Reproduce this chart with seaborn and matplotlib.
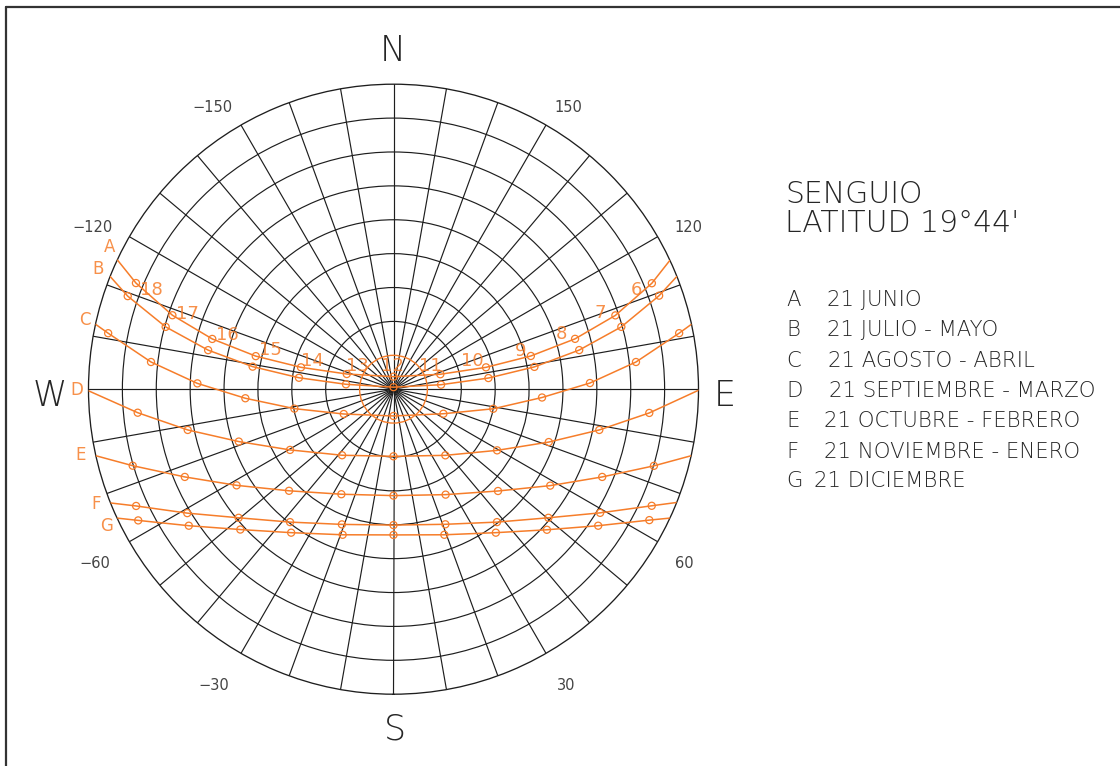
import numpy as np
import pandas as pd
import matplotlib
matplotlib.use("Agg")
import matplotlib.pyplot as plt
from matplotlib.lines import Line2D
from matplotlib.patches import Circle
import seaborn as sns

ORANGE = "#f67d2a"
INK = "#1e1e1e"
TEXT = "#262626"

# Sun positions: azimuth from south (east positive), zenith distance, both in degrees.
# Hour markers run from morning (east) to evening (west); rise/set are horizon crossings.
HOURS_A = [6, 7, 8, 9, 10, 11, 12, 13, 14, 15, 16, 17, 18]
A_AZ = [112.3, 108.4, 105.5, 103.6, 103.3, 107.7, 180.0, -108.0, -103.3, -103.5, -105.5, -108.5, -112.4]
A_ZEN = [82.4, 69.0, 55.6, 41.7, 28.05, 14.5, 3.7, 14.5, 28.05, 41.8, 55.5, 68.8, 82.2]
A_RISE_SET = [115.0, -115.1]

HOURS_B = [6, 7, 8, 9, 10, 11, 12, 13, 14, 15, 16, 17, 18]
B_AZ = [109.4, 105.3, 101.9, 99.0, 96.7, 95.4, 180.0, -95.9, -96.9, -99.1, -101.9, -105.3, -109.3]
B_ZEN = [83.1, 69.7, 56.0, 42.1, 28.2, 14.1, 0.6, 14.1, 28.1, 42.1, 55.9, 69.7, 83.1]
B_RISE_SET = [111.7, -111.7]

HOURS_C = [6, 7, 8, 9, 10, 11, 12, 13, 14, 15, 16, 17, 18]
C_AZ = [101.1, 96.4, 91.8, 86.8, 78.9, 63.8, 0.0, -63.5, -78.9, -86.5, -91.7, -96.4, -101.1]
C_ZEN = [85.9, 72.0, 58.0, 43.9, 30.0, 16.4, 7.9, 16.4, 29.8, 43.8, 57.9, 72.0, 85.8]
C_RISE_SET = [102.3, -102.3]

HOURS_D = [7, 8, 9, 10, 11, 12, 13, 14, 15, 16, 17]
D_AZ = [84.7, 78.8, 71.2, 59.45, 38.1, 0.0, -37.9, -59.6, -71.3, -78.8, -84.75]
D_ZEN = [75.8, 61.9, 48.4, 35.5, 24.8, 19.8, 24.7, 35.4, 48.2, 61.9, 75.8]
D_RISE_SET = [89.8, -89.7]

HOURS_E = [7, 8, 9, 10, 11, 12, 13, 14, 15, 16, 17]
E_AZ = [73.6, 67.2, 58.4, 45.75, 26.3, 0.0, -26.4, -45.8, -58.5, -67.2, -73.65]
E_ZEN = [80.1, 66.8, 54.3, 43.05, 34.7, 31.4, 34.6, 43.0, 54.3, 66.8, 80.2]
E_RISE_SET = [77.4, -77.4]

HOURS_F = [7, 8, 9, 10, 11, 12, 13, 14, 15, 16, 17]
F_AZ = [65.7, 59.1, 50.3, 37.9, 21.0, 0.0, -20.9, -37.9, -50.3, -59.0, -65.6]
F_ZEN = [83.6, 71.05, 59.4, 49.7, 42.7, 40.1, 42.7, 49.7, 59.4, 71.0, 83.4]
F_RISE_SET = [68.2, -68.1]

HOURS_G = [7, 8, 9, 10, 11, 12, 13, 14, 15, 16, 17]
G_AZ = [62.9, 56.3, 47.5, 35.5, 19.25, 0.0, -19.25, -35.5, -47.5, -56.3, -62.8]
G_ZEN = [84.8, 72.6, 61.4, 52.0, 45.5, 43.0, 45.5, 52.0, 61.3, 72.6, 84.7]
G_RISE_SET = [65.0, -65.0]

CURVE_IDS = ["A", "B", "C", "D", "E", "F", "G"]
CURVE_NAMES = ["21 JUNIO", "21 JULIO - MAYO", "21 AGOSTO - ABRIL",
               "21 SEPTIEMBRE - MARZO", "21 OCTUBRE - FEBRERO",
               "21 NOVIEMBRE - ENERO", "21 DICIEMBRE"]

AZ_TICKS = [-150, 150, -120, 120, -60, 60, -30, 30]

curves = {
    "A": (HOURS_A, A_AZ, A_ZEN, A_RISE_SET),
    "B": (HOURS_B, B_AZ, B_ZEN, B_RISE_SET),
    "C": (HOURS_C, C_AZ, C_ZEN, C_RISE_SET),
    "D": (HOURS_D, D_AZ, D_ZEN, D_RISE_SET),
    "E": (HOURS_E, E_AZ, E_ZEN, E_RISE_SET),
    "F": (HOURS_F, F_AZ, F_ZEN, F_RISE_SET),
    "G": (HOURS_G, G_AZ, G_ZEN, G_RISE_SET),
}

# tidy tables: full path (horizon to horizon) and the hourly markers
path_rows, mark_rows = [], []
for cid, (hours, az, zen, rs) in curves.items():
    seq = [(rs[0], 90.0)] + list(zip(az, zen)) + [(rs[1], 90.0)]
    for i, (a, z) in enumerate(seq):
        path_rows.append({"curve": cid, "order": i, "theta": np.deg2rad(a), "zen": z})
    for h, a, z in zip(hours, az, zen):
        mark_rows.append({"curve": cid, "hour": h, "theta": np.deg2rad(a), "zen": z})
path_df = pd.DataFrame(path_rows)
mark_df = pd.DataFrame(mark_rows)

sns.set_theme(style="white")
plt.rcParams["font.family"] = ["DejaVu Sans"]
FW = "light"

W, H = 1120, 766
fig = plt.figure(figsize=(W / 100, H / 100), dpi=100)
cx, cy, R = 393.5, 389.2, 305.0
ax = fig.add_axes([(cx - R) / W, (H - cy - R) / H, 2 * R / W, 2 * R / H],
                  projection="polar")
ax.set_theta_zero_location("S")
ax.set_theta_direction(1)
ax.set_ylim(0, 90)

# grid: radial lines every 10 degrees, altitude rings every 10 degrees
ax.set_xticks(np.deg2rad(np.arange(0, 360, 10)))
ax.set_xticklabels([])
ax.set_yticks(np.arange(20, 90, 10))
ax.set_yticklabels([])
ax.tick_params(length=0)
ax.grid(True, color=INK, linewidth=0.85)
ax.spines["polar"].set_color(INK)
ax.spines["polar"].set_linewidth(0.95)
ax.add_patch(Circle((0.5, 0.5), 0.5 * 10 / 90, transform=ax.transAxes,
                    fill=False, edgecolor=ORANGE, linewidth=1.0, zorder=3))

sns.lineplot(data=path_df, x="theta", y="zen", units="curve", estimator=None,
             sort=False, color=ORANGE, linewidth=1.1, ax=ax, legend=False, zorder=3)
sns.scatterplot(data=mark_df, x="theta", y="zen", marker="o", s=26,
                facecolor="none", edgecolor=ORANGE, linewidth=0.9,
                ax=ax, legend=False, zorder=4)
ax.set_xlabel("")
ax.set_ylabel("")

# hour labels along the June path
hour_offsets = {6: (-15.7, 6.7), 7: (-15, -2.6), 8: (-14, -4.7), 9: (-10.3, -5.3),
                10: (-14, -6.8), 11: (-10.3, -7.8), 12: (-1.5, -11), 13: (10.3, -8.5),
                14: (11.5, -6.8), 15: (14.3, -6), 16: (15.4, -4), 17: (15, -1.7),
                18: (15.7, 6.7)}
for h, a, z in zip(HOURS_A, A_AZ, A_ZEN):
    dx, dy = hour_offsets[h]
    ax.annotate(str(h), xy=(np.deg2rad(a), z), xytext=(dx, -dy),
                textcoords="offset pixels", ha="center", va="center",
                fontsize=13, color=ORANGE, fontweight="normal", alpha=0.85,
                annotation_clip=False)

# curve letters beside the western horizon crossing
letter_offsets = {"A": (-8, -13), "B": (-11.7, -7.7), "C": (-10.7, -4.3),
                  "D": (-12, -0.7), "E": (-15, -0.3), "F": (-14.4, 0.6),
                  "G": (-11, 8.3)}
for cid in CURVE_IDS:
    rs = curves[cid][3]
    dx, dy = letter_offsets[cid]
    ax.annotate(cid, xy=(np.deg2rad(rs[1]), 90), xytext=(dx, -dy),
                textcoords="offset pixels", ha="center", va="center",
                fontsize=12, color=ORANGE, fontweight="normal", alpha=0.85,
                annotation_clip=False)


def ft(x, y, s, **kw):
    fig.text(x / W, 1 - y / H, s, **kw)


# azimuth labels outside the horizon ring
az_pos = [(212, 107), (568, 107), (93, 226), (688, 226),
          (95, 563), (684, 563), (214, 684), (566, 684)]
for az, (x, y) in zip(AZ_TICKS, az_pos):
    lab = str(az).replace("-", "\u2212")
    ft(x, y + 5.5, lab, ha="center", va="baseline", fontsize=10.5, color="#444444",
       fontweight="normal")

# cardinal points
ft(393, 61, "N", ha="center", va="baseline", fontsize=25, color=TEXT, fontweight=FW)
ft(395, 740, "S", ha="center", va="baseline", fontsize=25, color=TEXT, fontweight=FW)
ft(50, 406, "W", ha="center", va="baseline", fontsize=25, color=TEXT, fontweight=FW)
ft(725, 406, "E", ha="center", va="baseline", fontsize=25, color=TEXT, fontweight=FW)

# title block
ft(785, 202.7, "SENGUIO", ha="left", va="baseline", fontsize=21.5, color=TEXT, fontweight=FW)
ft(785, 231.7, "LATITUD 19°44'", ha="left", va="baseline", fontsize=21.5, color=TEXT, fontweight=FW)

row_base = [305.7, 335.7, 366.7, 397.3, 427.3, 457.7, 487.3]
name_x = [826.7, 826.7, 827.7, 829.3, 824.3, 824.3, 814.3]
for cid, name, yb, xn in zip(CURVE_IDS, CURVE_NAMES, row_base, name_x):
    ft(786, yb, cid, ha="left", va="baseline", fontsize=15.3, color=TEXT, fontweight=FW)
    ft(xn, yb, name, ha="left", va="baseline", fontsize=15.3, color=TEXT, fontweight=FW)

# sheet frame
fig.add_artist(Line2D([6 / W, 1], [1 - 7 / H] * 2, transform=fig.transFigure,
                      color="#333333", linewidth=1.6))
fig.add_artist(Line2D([6 / W] * 2, [1 - 7 / H, 0], transform=fig.transFigure,
                      color="#333333", linewidth=1.6))

fig.savefig("out.png", dpi=100, facecolor="white")
